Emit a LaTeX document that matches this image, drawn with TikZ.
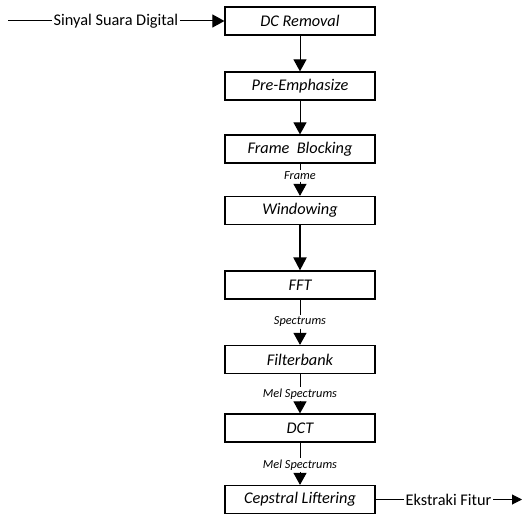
\documentclass[tikz,border=0pt]{standalone}
\usepackage{fontspec}
\setmainfont{Carlito}
\usetikzlibrary{arrows.meta}
\tikzset{
  box/.style={draw, line width=1.2pt, minimum width=150pt, minimum height=28pt, inner sep=0pt,
    font=\fontsize{16.3}{18}\selectfont\itshape},
  lbl/.style={inner sep=1.5pt, font=\fontsize{12.3}{14}\selectfont\itshape},
  side/.style={inner sep=1.5pt, font=\fontsize{16.3}{18}\selectfont},
  conn/.style={line width=1pt},
  arr/.style={line width=1pt, -{Triangle[width=13pt,length=12pt]}},
  arrthick/.style={line width=2pt, -{Triangle[width=13pt,length=13pt]}},
  arrsmall/.style={line width=1pt, -{Triangle[width=10pt,length=10pt]}}
}
\begin{document}
\begin{tikzpicture}[x=1pt,y=-1pt]
\useasboundingbox (0,0) rectangle (523,524);
\node[box] (dc)  at (300,21)    {DC Removal};
\node[box] (pre) at (300,86)    {Pre-Emphasize};
\node[box] (fb)  at (300,149)   {Frame\ \ Blocking};
\node[box] (win) at (300,210.5) {Windowing};
\node[box] (fft) at (300,285)   {FFT};
\node[box] (fil) at (300,359.5) {Filterbank};
\node[box] (dct) at (300,428)   {DCT};
\node[box] (cep) at (300,499.5) {Cepstral Liftering};

\node[lbl] (l1) at (300,176) {Frame};
\node[lbl] (l2) at (300,322) {Spectrums};
\node[lbl] (l3) at (300,394) {Mel Spectrums};
\node[lbl] (l4) at (300,465) {Mel Spectrums};

\coordinate (in) at (8,21);
\node[side] (sin) at (116,21) {Sinyal Suara Digital};
\node[side] (ek) at (448.5,499.5) {Ekstraki Fitur};
\coordinate (out) at (522,499.5);

\draw[conn] (in) -- (sin);
\draw[arr] (sin) -- (dc);
\draw[arr] (dc) -- (pre);
\draw[arr] (pre) -- (fb);
\draw[conn] (fb) -- (l1);
\draw[arr] (l1) -- (win);
\draw[arrthick] (win) -- (fft);
\draw[conn] (fft) -- (l2);
\draw[arr] (l2) -- (fil);
\draw[conn] (fil) -- (l3);
\draw[arr] (l3) -- (dct);
\draw[conn] (dct) -- (l4);
\draw[arr] (l4) -- (cep);
\draw[conn] (cep) -- (ek);
\draw[arrsmall] (ek) -- (out);
\end{tikzpicture}
\end{document}
